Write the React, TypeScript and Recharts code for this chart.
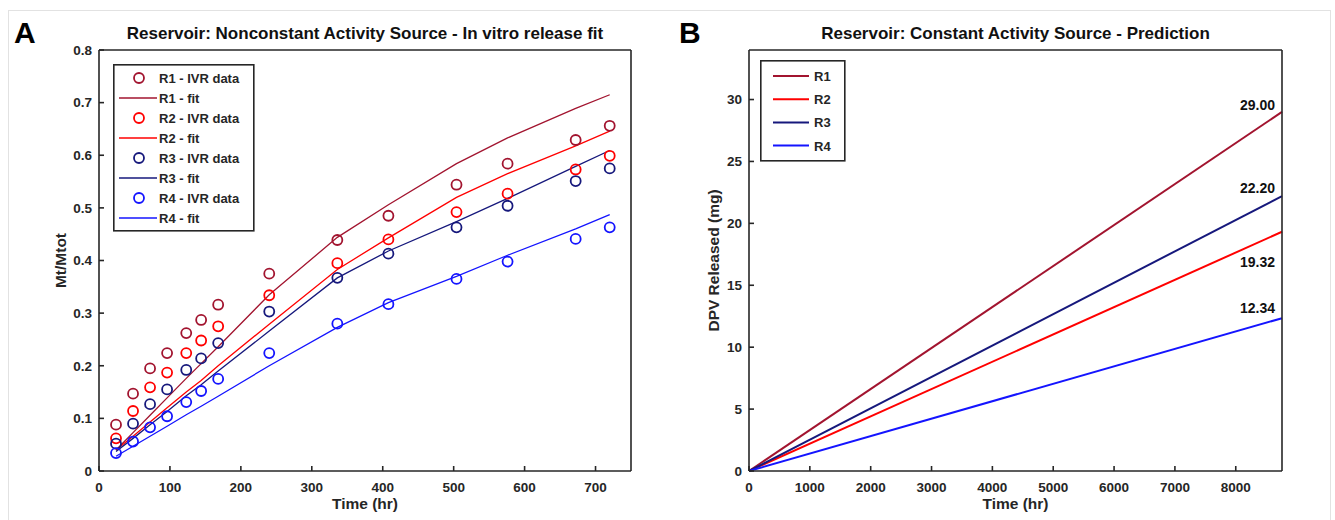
import { ComposedChart, Label, LabelList, Legend, Line, XAxis, YAxis } from "recharts";

// ---- data ----
// panel A: in vitro release, time in hours
const IVR_TIME = [24, 48, 72, 96, 123, 144, 168, 240, 336, 408, 504, 576, 672, 720];
const R1_DATA = [0.088, 0.147, 0.195, 0.224, 0.262, 0.287, 0.316, 0.375, 0.439, 0.485, 0.544, 0.584, 0.629, 0.656];
const R2_DATA = [0.062, 0.114, 0.159, 0.187, 0.224, 0.248, 0.275, 0.334, 0.395, 0.44, 0.492, 0.527, 0.573, 0.599];
const R3_DATA = [0.052, 0.09, 0.127, 0.155, 0.192, 0.214, 0.243, 0.303, 0.367, 0.413, 0.463, 0.504, 0.551, 0.575];
const R4_DATA = [0.034, 0.056, 0.083, 0.104, 0.131, 0.152, 0.175, 0.224, 0.28, 0.317, 0.365, 0.398, 0.441, 0.463];
const R1_FIT = [0.04, 0.073, 0.106, 0.139, 0.176, 0.204, 0.236, 0.335, 0.444, 0.506, 0.584, 0.633, 0.689, 0.715];
const R2_FIT = [0.04, 0.066, 0.093, 0.12, 0.15, 0.172, 0.2, 0.279, 0.383, 0.443, 0.52, 0.565, 0.618, 0.646];
const R3_FIT = [0.037, 0.062, 0.088, 0.113, 0.143, 0.164, 0.19, 0.266, 0.367, 0.418, 0.474, 0.518, 0.579, 0.609];
const R4_FIT = [0.028, 0.047, 0.066, 0.085, 0.107, 0.123, 0.142, 0.2, 0.273, 0.32, 0.37, 0.41, 0.46, 0.487];

// panel B: constant activity prediction over one year
const PRED_TIME = [0, 8760];
const R1_PRED = [0, 29.0];
const R2_PRED = [0, 19.32];
const R3_PRED = [0, 22.2];
const R4_PRED = [0, 12.34];

const A_X_TICKS = [0, 100, 200, 300, 400, 500, 600, 700];
const A_Y_TICKS = [0, 0.1, 0.2, 0.3, 0.4, 0.5, 0.6, 0.7, 0.8];
const B_X_TICKS = [0, 1000, 2000, 3000, 4000, 5000, 6000, 7000, 8000];
const B_Y_TICKS = [0, 5, 10, 15, 20, 25, 30];

const NAMES = ["R1", "R2", "R3", "R4"];

// ---- styles ----
const FONT = '"Liberation Sans", Arial, Helvetica, sans-serif';
const INK = "#262626";
const COLORS = ["#A2142F", "#FF0000", "#16187C", "#1414FF"];
// baseline offset of the end-value labels in panel B (px from line end)
const END_LABEL_DY = [-2, 35, -3, -5];

const tickStyle = { fill: INK, fontSize: 13.5, fontWeight: 700, fontFamily: FONT };
const axisLine = { stroke: INK, strokeWidth: 1.6 };

const ivrRows = IVR_TIME.map((t, i) => ({
  t,
  r1d: R1_DATA[i],
  r2d: R2_DATA[i],
  r3d: R3_DATA[i],
  r4d: R4_DATA[i],
  r1f: R1_FIT[i],
  r2f: R2_FIT[i],
  r3f: R3_FIT[i],
  r4f: R4_FIT[i],
}));

const predRows = PRED_TIME.map((t, i) => ({
  t,
  r1: R1_PRED[i],
  r2: R2_PRED[i],
  r3: R3_PRED[i],
  r4: R4_PRED[i],
}));

const xTitle =
  (text: string) =>
  ({ viewBox }: any) => (
    <text
      x={viewBox.x + viewBox.width / 2}
      y={471 + 38}
      textAnchor="middle"
      fill={INK}
      fontSize={15.5}
      fontWeight={700}
      fontFamily={FONT}
    >
      {text}
    </text>
  );

const yTitle =
  (text: string, cx: number) =>
  () => {
    const cy = 260.5;
    return (
      <text
        x={cx}
        y={cy}
        transform={`rotate(-90 ${cx} ${cy})`}
        textAnchor="middle"
        dominantBaseline="central"
        fill={INK}
        fontSize={15.5}
        fontWeight={700}
        fontFamily={FONT}
      >
        {text}
      </text>
    );
  };

const plotTitle =
  (text: string) =>
  ({ viewBox }: any) => (
    <text
      x={viewBox.x + viewBox.width / 2}
      y={50 - 11}
      textAnchor="middle"
      fill="#111"
      fontSize={17}
      fontWeight={700}
      fontFamily={FONT}
    >
      {text}
    </text>
  );

const IvrLegend = () => {
  const rows = NAMES.flatMap((name, i) => [
    { label: `${name} - IVR data`, color: COLORS[i], marker: true },
    { label: `${name} - fit`, color: COLORS[i], marker: false },
  ]);
  return (
    <svg width={142} height={168} style={{ display: "block" }}>
      <rect x={0.8} y={0.8} width={140} height={166} fill="#fff" stroke={INK} strokeWidth={1.6} />
      {rows.map((row, i) => {
        const y = 14 + i * 20;
        return (
          <g key={row.label}>
            {row.marker ? (
              <circle cx={26} cy={y} r={5} fill="none" stroke={row.color} strokeWidth={1.8} />
            ) : (
              <line x1={6} x2={44} y1={y} y2={y} stroke={row.color} strokeWidth={1.3} />
            )}
            <text x={46} y={y + 5} fill={INK} fontSize={13} fontWeight={700} fontFamily={FONT}>
              {row.label}
            </text>
          </g>
        );
      })}
    </svg>
  );
};

const PredLegend = () => (
  <svg width={86} height={102} style={{ display: "block" }}>
    <rect x={0.8} y={0.8} width={84} height={100} fill="#fff" stroke={INK} strokeWidth={1.6} />
    {NAMES.map((name, i) => {
      const y = 16 + i * 23.2;
      return (
        <g key={name}>
          <line x1={13} x2={49} y1={y} y2={y} stroke={COLORS[i]} strokeWidth={2} />
          <text x={54} y={y + 5} fill={INK} fontSize={13} fontWeight={700} fontFamily={FONT}>
            {name}
          </text>
        </g>
      );
    })}
  </svg>
);

const endLabel = (series: number) => (props: any) => {
  const { x, y, index, value } = props;
  if (index !== PRED_TIME.length - 1) return null;
  return (
    <text
      x={x - 7}
      y={y + END_LABEL_DY[series]}
      textAnchor="end"
      fill="#111"
      fontSize={14}
      fontWeight={700}
      fontFamily={FONT}
    >
      {Number(value).toFixed(2)}
    </text>
  );
};

const panelLetter = (letter: string, left: number) => (
  <div
    style={{
      position: "absolute",
      left,
      top: 18,
      fontFamily: FONT,
      fontWeight: 700,
      fontSize: 30,
      lineHeight: "30px",
      color: "#000",
    }}
  >
    {letter}
  </div>
);

// axes are 1px thick so the plot box lands on exact pixels (margins are reduced by 1)
const boxAxes = (xDomain: number[], xTicks: number[], yDomain: number[], yTicks: number[], title: string, ylabel: string, ylabelX: number, yFmt?: (v: number) => string) => [
  <XAxis
    key="xb"
    type="number"
    dataKey="t"
    domain={xDomain}
    ticks={xTicks}
    height={1}
    tickSize={-5}
    tickMargin={16}
    tick={tickStyle}
    axisLine={axisLine}
    tickLine={axisLine}
  >
    <Label content={xTitle("Time (hr)")} />
  </XAxis>,
  <XAxis
    key="xt"
    xAxisId="top"
    orientation="top"
    type="number"
    dataKey="t"
    domain={xDomain}
    ticks={xTicks}
    height={1}
    tickSize={-5}
    tick={false}
    allowDataOverflow
    axisLine={axisLine}
    tickLine={axisLine}
  >
    <Label content={plotTitle(title)} />
  </XAxis>,
  <YAxis
    key="yl"
    type="number"
    domain={yDomain}
    ticks={yTicks}
    width={1}
    tickSize={-5}
    tickMargin={12}
    tick={tickStyle}
    tickFormatter={yFmt}
    axisLine={axisLine}
    tickLine={axisLine}
  >
    <Label content={yTitle(ylabel, ylabelX)} />
  </YAxis>,
  <YAxis
    key="yr"
    yAxisId="right"
    orientation="right"
    type="number"
    domain={yDomain}
    ticks={yTicks}
    width={1}
    tickSize={-5}
    tick={false}
    allowDataOverflow
    axisLine={axisLine}
    tickLine={axisLine}
  />,
];

export default function App() {
  return (
    <div
      style={{
        position: "absolute",
        left: 0,
        top: 0,
        width: 1335,
        height: 520,
        background: "#fff",
        overflow: "hidden",
      }}
    >
      <div
        style={{
          position: "absolute",
          left: 8,
          top: 10,
          width: 1321,
          height: 520,
          borderTop: "1px solid #e2e2e2",
          borderLeft: "1px solid #e2e2e2",
          borderRight: "1px solid #e2e2e2",
        }}
      />
      {panelLetter("A", 14)}
      {panelLetter("B", 679)}

      <div style={{ position: "absolute", left: 0, top: 0 }}>
        <ComposedChart width={660} height={520} data={ivrRows} margin={{ top: 49, right: 28, bottom: 48, left: 98 }}>
          {boxAxes(
            [0, 750],
            A_X_TICKS,
            [0, 0.8],
            A_Y_TICKS,
            "Reservoir: Nonconstant Activity Source - In vitro release fit",
            "Mt/Mtot",
            60,
            (v: number) => (v === 0 ? "0" : v.toFixed(1)),
          )}
          <Legend
            layout="vertical"
            align="center"
            verticalAlign="middle"
            content={() => <IvrLegend />}
            wrapperStyle={{ left: 113, top: 64, width: 142, height: 168 }}
          />
          {NAMES.map((name, i) => (
            <Line
              key={`${name}-fit`}
              dataKey={`r${i + 1}f`}
              name={`${name} - fit`}
              type="linear"
              stroke={COLORS[i]}
              strokeWidth={1.3}
              dot={false}
              activeDot={false}
              isAnimationActive={false}
            />
          ))}
          {NAMES.map((name, i) => (
            <Line
              key={`${name}-data`}
              dataKey={`r${i + 1}d`}
              name={`${name} - IVR data`}
              stroke="none"
              dot={{ r: 5, fill: "none", stroke: COLORS[i], strokeWidth: 1.8 }}
              activeDot={false}
              isAnimationActive={false}
            />
          ))}
        </ComposedChart>
      </div>

      <div style={{ position: "absolute", left: 660, top: 0 }}>
        <ComposedChart width={675} height={520} data={predRows} margin={{ top: 49, right: 52, bottom: 48, left: 88 }}>
          {boxAxes(
            [0, 8760],
            B_X_TICKS,
            [0, 34],
            B_Y_TICKS,
            "Reservoir: Constant Activity Source - Prediction",
            "DPV Released (mg)",
            53,
          )}
          <Legend
            layout="vertical"
            align="center"
            verticalAlign="middle"
            content={() => <PredLegend />}
            wrapperStyle={{ left: 100, top: 60, width: 86, height: 102 }}
          />
          {NAMES.map((name, i) => (
            <Line
              key={name}
              dataKey={`r${i + 1}`}
              name={name}
              type="linear"
              stroke={COLORS[i]}
              strokeWidth={2}
              dot={false}
              activeDot={false}
              isAnimationActive={false}
            >
              <LabelList dataKey={`r${i + 1}`} content={endLabel(i)} />
            </Line>
          ))}
        </ComposedChart>
      </div>
    </div>
  );
}
